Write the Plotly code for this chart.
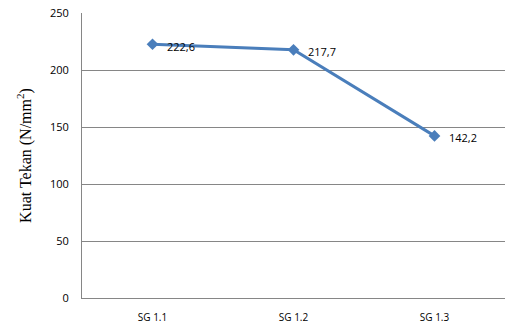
import plotly.graph_objects as go

categories = ["SG 1.1", "SG 1.2", "SG 1.3"]
kuat_tekan = [222.6, 217.7, 142.2]
y_ticks = [0, 50, 100, 150, 200, 250]

fig = go.Figure()
fig.add_trace(go.Scatter(
    x=categories, y=kuat_tekan,
    mode="lines+markers",
    line=dict(color="#4A7EBB", width=3),
    marker=dict(symbol="diamond", size=9, color="#4A7EBB"),
    cliponaxis=False,
    showlegend=False,
))

for c, v in zip(categories, kuat_tekan):
    fig.add_annotation(
        x=c, y=v, text=f"{v:.1f}".replace(".", ","),
        showarrow=False, xanchor="left", yanchor="middle",
        xshift=12, yshift=-2,
        font=dict(family="Open Sans, Liberation Sans, sans-serif", size=11, color="#000000"),
    )

fig.update_layout(
    width=510, height=330,
    margin=dict(l=82, r=5, t=13, b=32),
    paper_bgcolor="white", plot_bgcolor="white",
    separators=",.",
    font=dict(family="Open Sans, Liberation Sans, sans-serif", size=11, color="#000000"),
)
fig.update_xaxes(
    type="category", range=[-0.5, 2.5],
    showline=True, linecolor="#868686", linewidth=1,
    showgrid=False, ticks="", ticklabelstandoff=10,
    tickfont=dict(size=10),
)
fig.update_yaxes(
    range=[0, 250], tickvals=y_ticks,
    showline=True, linecolor="#868686", linewidth=1,
    showgrid=True, gridcolor="#868686", gridwidth=1,
    zeroline=False, ticks="", ticklabelstandoff=10,
    tickfont=dict(size=11),
    title=dict(text="Kuat Tekan (N/mm<sup>2</sup>)",
               font=dict(family="Liberation Serif, Times New Roman, serif", size=16),
               standoff=14),
)

fig.write_html("out.html")
